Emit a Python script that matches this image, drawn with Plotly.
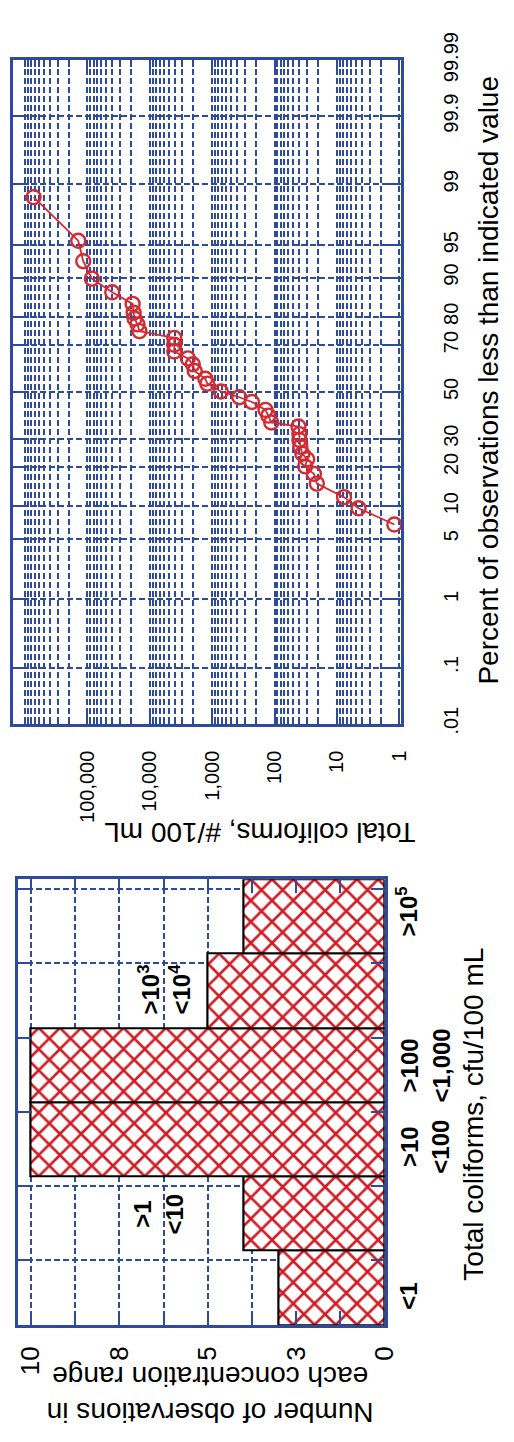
import plotly.graph_objects as go
from statistics import NormalDist

# ---------------- data: probability plot ----------------
conc = [730000, 140600, 117000, 85100, 40100, 18900, 18200, 17600, 15800, 14700,
        4060, 4060, 4060, 2460, 2050, 1910, 1290, 1200, 727, 368, 231, 140, 126, 113,
        41.4, 40, 40, 38.6, 35.9, 30, 32.3, 23.4, 21, 7.7, 4.5, 1.2]
pct = [98.55, 95.49, 92.85, 89.78, 86.79, 83.80, 81.27, 79.45, 77.55, 75.20,
       72.74, 70.13, 67.44, 64.65, 62.17, 59.25, 55.84, 53.70, 50.2, 47.6, 45.5, 42.0,
       39.5, 36.6, 34.9, 31.8, 29.5, 26.9, 24.4, 22.5, 20.2, 17.9, 15.2, 11.9, 9.6, 6.85]

pct_ticks = [0.01, 0.1, 1, 5, 10, 20, 30, 50, 70, 80, 90, 95, 99, 99.9, 99.99]
pct_labels = [".01", ".1", "1", "5", "10", "20", "30", "50", "70", "80", "90", "95",
              "99", "99.9", "99.99"]
conc_ticks = [1, 10, 100, 1000, 10000, 100000]
conc_labels = ["1", "10", "100", "1,000", "10,000", "100,000"]

# ---------------- data: histogram ----------------
categories = ["&lt;1", "&gt;1<br>&lt;10", "&gt;10<br>&lt;100", "&gt;100<br>&lt;1,000",
              "&gt;10<sup>3</sup><br>&lt;10<sup>4</sup>", "&gt;10<sup>5</sup>"]
counts = [3, 4, 10, 10, 5, 4]
count_ticks = [0, 2.5, 5, 7.5, 10]
count_labels = ["0", "3", "5", "8", "10"]
count_minor = [1.25, 3.75, 6.25, 8.75]

BLUE = "#2E4A9C"
RED = "#D42A30"
FONT = "Liberation Sans, Arial, sans-serif"

nd = NormalDist()
z = lambda p: nd.inv_cdf(p / 100.0)
zmax = z(99.99)

minor_conc = [m * 10 ** k for k in range(0, 6) for m in range(2, 10)] + [1000000]

fig = go.Figure()

fig.add_trace(go.Scatter(
    x=conc, y=[z(p) for p in pct], xaxis="x", yaxis="y",
    mode="lines+markers",
    line=dict(color=RED, width=1.8),
    marker=dict(symbol="circle-open", size=14, color=RED, line=dict(width=2.4, color=RED)),
    showlegend=False, cliponaxis=False,
))

idx = list(range(len(counts)))
fig.add_trace(go.Bar(
    x=counts, y=idx, orientation="h", xaxis="x2", yaxis="y2", width=1,
    marker=dict(color="white",
                line=dict(color="black", width=2.2),
                pattern=dict(shape="x", fgcolor="#D01C24", bgcolor="white", fgopacity=1,
                             size=15, solidity=0.32)),
    showlegend=False,
))

grid = dict(showgrid=True, gridcolor=BLUE, gridwidth=1.8, griddash="6px,3px",
            showline=True, linecolor=BLUE, linewidth=3, mirror="allticks",
            ticks="inside", tickcolor=BLUE, tickwidth=2.2, zeroline=False,
            tickfont=dict(family=FONT, size=20, color="black"))
minor_grid = dict(tickmode="array", ticks="inside", tickcolor=BLUE, tickwidth=1.8,
                  showgrid=True, gridcolor=BLUE, gridwidth=1.8, griddash="6px,3px")

fig.update_layout(
    width=514, height=1442, autosize=False,
    margin=dict(l=0, r=0, t=0, b=0),
    paper_bgcolor="white", plot_bgcolor="white",
    bargap=0,
    xaxis=dict(type="log", range=[6.2, -0.03], domain=[11 / 514, 412 / 514], anchor="y",
               tickmode="array", tickvals=conc_ticks, ticktext=conc_labels, tickangle=-90,
               ticklen=12, ticklabelstandoff=16,
               minor=dict(tickvals=minor_conc, ticklen=7, **minor_grid),
               **grid),
    yaxis=dict(range=[-zmax, zmax], domain=[1 - 715 / 1442, 1 - 33 / 1442], anchor="x",
               side="right", tickmode="array", tickvals=[z(p) for p in pct_ticks],
               ticktext=pct_labels, tickangle=-90, ticklen=16, ticklabelstandoff=30,
               **grid),
    xaxis2=dict(range=[10.38, 0], domain=[16 / 514, 395 / 514], anchor="y2",
                tickmode="array", tickvals=count_ticks, ticktext=count_labels, tickangle=-90,
                ticklen=14, ticklabelstandoff=8,
                minor=dict(tickvals=count_minor, ticklen=14, **minor_grid),
                **{**grid, "tickfont": dict(family=FONT, size=26, color="black")}),
    yaxis2=dict(range=[-0.5, 5.5], domain=[1 - 1333 / 1442, 1 - 875 / 1442], anchor="x2",
                tickmode="array", tickvals=[i + 0.37 for i in idx], showticklabels=False,
                ticklen=14, **grid),
)

# category labels (bold, rotated)
label_pos = [(420, 0, -8), (161, 1, 0), (437, 2, -7), (437, 3, 0), (168, 4, 2), (418, 5, 5)]
for (px, i, ys), txt in zip(label_pos, categories):
    fig.add_annotation(text="<b>" + txt + "</b>", xref="paper", yref="y2",
                       x=px / 514, y=i, yshift=ys, textangle=-90, showarrow=False,
                       xanchor="center", yanchor="middle",
                       font=dict(family=FONT, size=24, color="black"))

titles = [
    ("Percent of observations less than indicated value", 502, 362, -90),
    ("Total coliforms, #/100 mL", 266, 827, 180),
    ("Number of observations in<br>each concentration range", 215, 1405, 180),
    ("Total coliforms, cfu/100 mL", 487, 1116, -90),
]
for txt, px, py, ang in titles:
    fig.add_annotation(text=txt, xref="paper", yref="paper", x=px / 514, y=1 - py / 1442,
                       textangle=ang, showarrow=False, xanchor="center", yanchor="middle",
                       font=dict(family=FONT, size=28, color="black"))

fig.write_html("out.html", config={"displayModeBar": False},
               post_script="document.body.style.margin='0';")
